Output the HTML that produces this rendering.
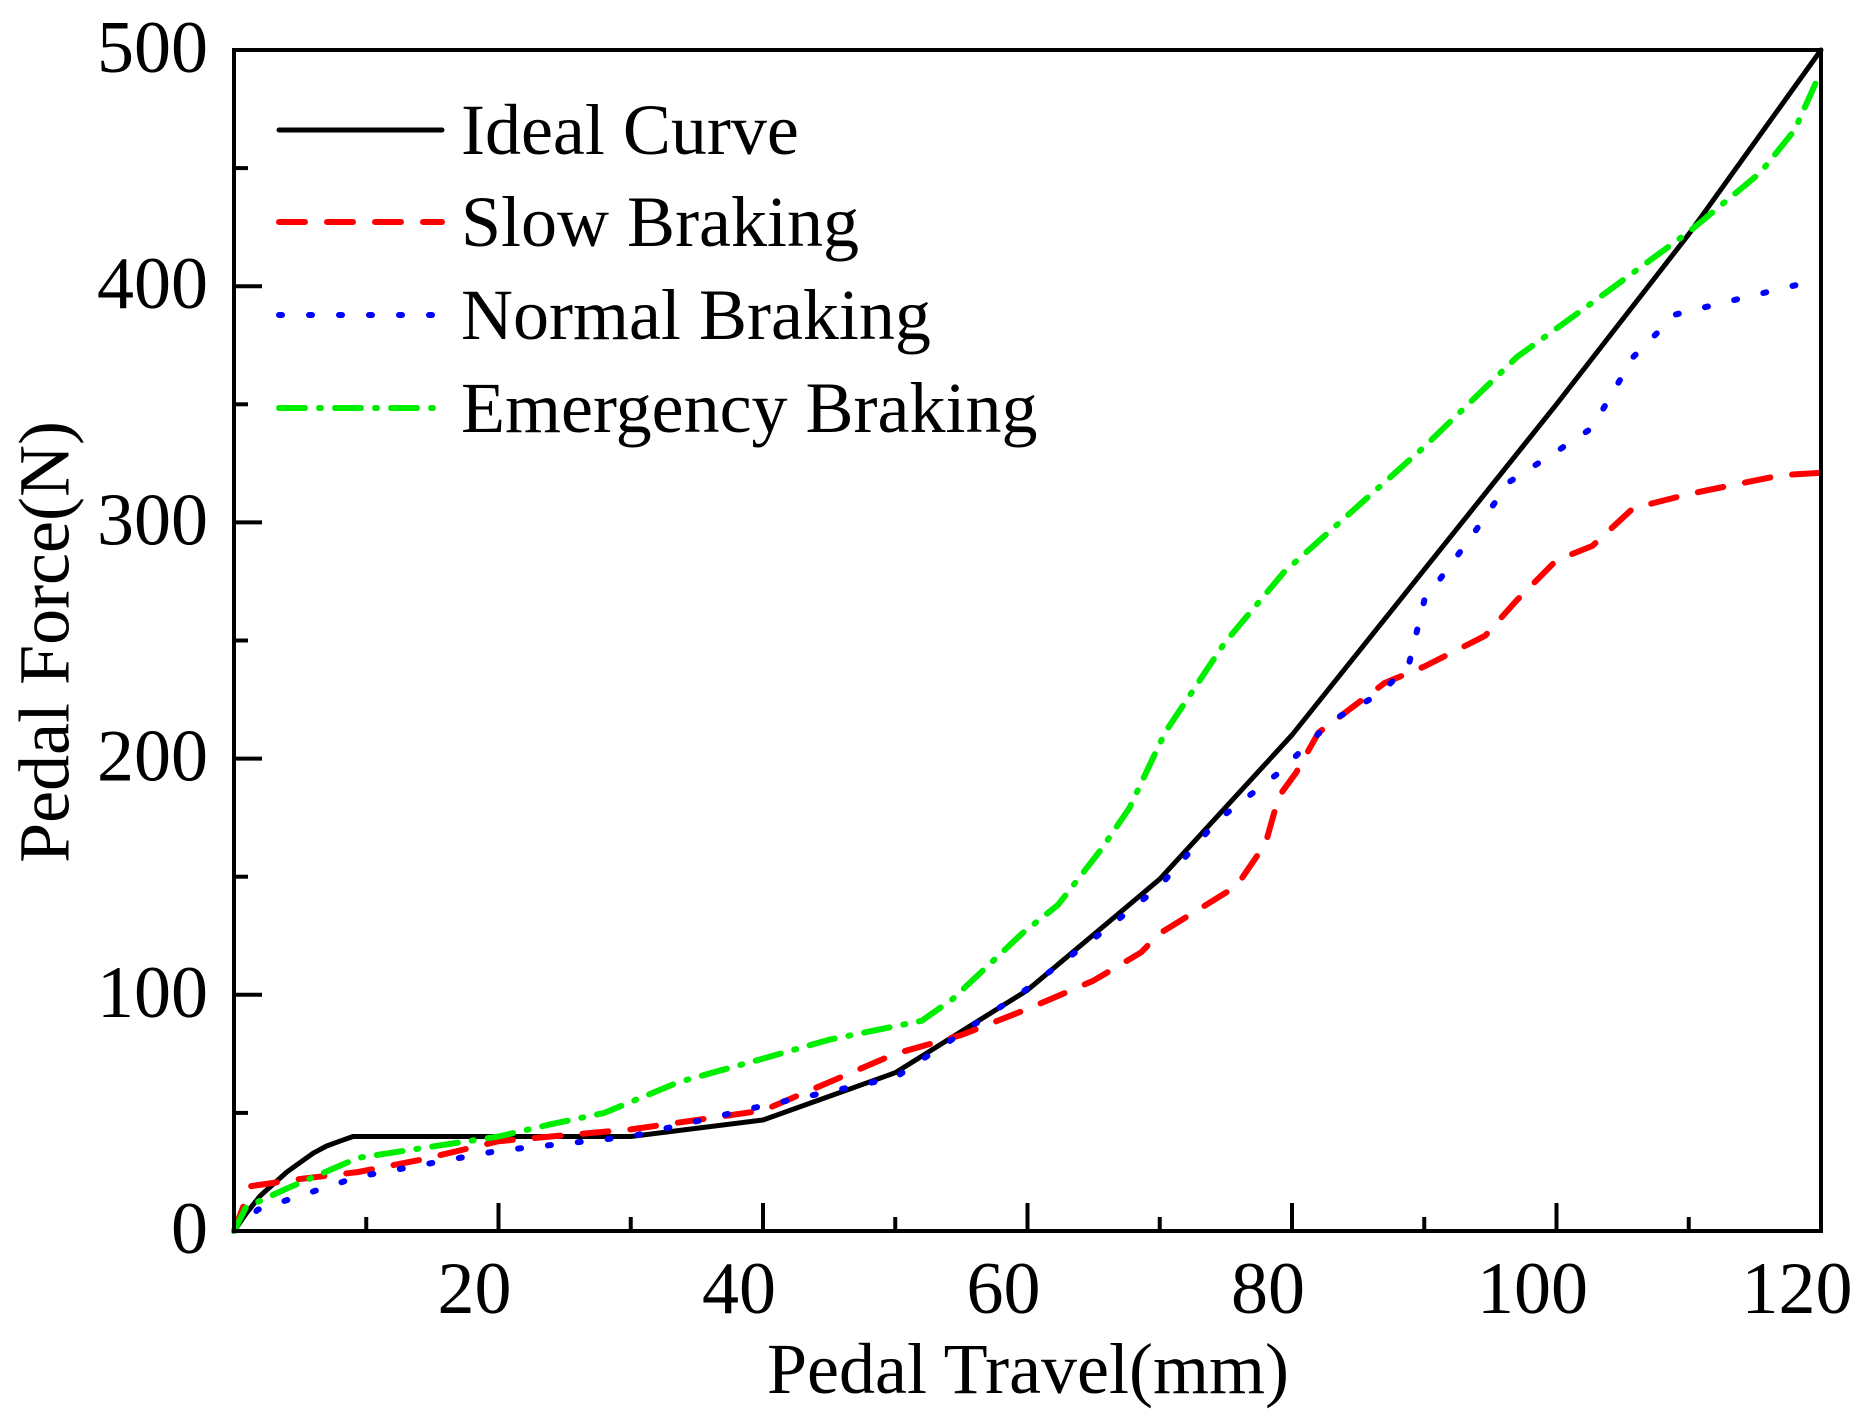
<!DOCTYPE html>
<html><head><meta charset="utf-8">
<style>
html,body{margin:0;padding:0;background:#fff;}
svg{display:block;font-family:"Liberation Serif",serif;}
</style></head>
<body>
<svg id="chart" width="1863" height="1417" viewBox="0 0 1863 1417" xmlns="http://www.w3.org/2000/svg">
<g id="plot"></g>
<g id="axes"></g>
<text x="1028" y="1393" font-size="72" text-anchor="middle">Pedal Travel(mm)</text>
<text transform="translate(52,642) rotate(-90)" font-size="72" text-anchor="middle" dominant-baseline="middle">Pedal Force(N)</text>
<g id="legend"></g>
</svg>
<script>
const xTicks=[20,40,60,80,100,120];
const yTicks=[0,100,200,300,400,500];
const seriesNames=["Ideal Curve","Slow Braking","Normal Braking","Emergency Braking"];
const idealX=[0,1,2,3,4,5,6,7,8,9,30,40,50,60,70,80,90,100,110,120];
const idealY=[0,8,15,20,25,29,33,36,38,40,40,47,67,102,149,210,280,350,422,500];
const slowX=[0,1.3,5,9.4,14,20,30,40,45,50,55,60,65,68.6,70,75.8,78,79,80.3,82,87,90,94.6,97,100,102.7,105.8,110,112.6,117,120];
const slowY=[0,19,22,25,30,38,43,51,63,75,83,94,106,118,126,146,164,184,194,211,232,239,252,267,284,290,306,312,315,320,321];
const normalX=[0,1.8,9.4,20,30,40,50,59.6,66,70,74.4,79,83,86.5,88.8,90,93.7,96.4,100,102.7,105.8,109,112.6,120];
const normalY=[0,9,23,34,40,53,65,101,128,146,174,194,216,227,239,267,295,317,330,340,370,388,393,403];
const emergX=[0,0.9,4,9.4,20,23.8,28,33.6,40,45,52,54.3,59.6,62.3,65.5,67.7,70.4,74.9,79.4,85.6,90,97,102.7,110,115.4,118,120];
const emergY=[0,10,18,31,40,45,50,63,73,81,89,98,126,138,161,179,211,249,279,310,332,370,393,423,448,466,491];

const X0=234,X1=1821,Y0=1231,Y1=50;
const sx=v=>X0+(v/120)*(X1-X0);
const sy=v=>Y0-(v/500)*(Y0-Y1);
const NS="http://www.w3.org/2000/svg";
function mk(tag,attrs,parent){const e=document.createElementNS(NS,tag);for(const k in attrs)e.setAttribute(k,attrs[k]);parent.appendChild(e);return e;}
const plot=document.getElementById('plot'),axes=document.getElementById('axes'),legend=document.getElementById('legend');

const styles=[
 {c:"#000",d:"",w:5,cap:"round"},
 {c:"#ff0000",d:"26 22",w:6,cap:"round"},
 {c:"#0000ff",d:"3 27",w:6,cap:"round"},
 {c:"#00ee00",d:"26 14 2 14",w:6,cap:"round"}
];
const xs=[idealX,slowX,normalX,emergX],ys=[idealY,slowY,normalY,emergY];
const snames=['ideal-curve-line','slow-braking-line','normal-braking-line','emergency-braking-line'];
for(let s=0;s<4;s++){
  const pts=xs[s].map((x,i)=>sx(x).toFixed(1)+","+sy(ys[s][i]).toFixed(1)).join(" ");
  const p=mk('polyline',{points:pts,fill:"none",stroke:styles[s].c,"stroke-width":styles[s].w,"stroke-dasharray":styles[s].d,"stroke-linecap":styles[s].cap,"stroke-linejoin":"round"},plot);
  
  
}
const fr=mk('rect',{x:X0,y:Y1,width:X1-X0,height:Y0-Y1,fill:"none",stroke:"#000","stroke-width":4},axes);


for(let v=10;v<120;v+=10){
  const len=(v%20===0)?28:14;
  const t=mk('line',{x1:sx(v),x2:sx(v),y1:Y0,y2:Y0-len,stroke:"#000","stroke-width":4},axes);
  
  
}
xTicks.forEach(v=>{
  const t=mk('text',{x:sx(v)-24,y:1313,"font-size":74,"text-anchor":"middle"},axes);
  t.textContent=v;
  
  
});
for(let v=50;v<500;v+=50){
  const len=(v%100===0)?28:14;
  const t=mk('line',{x1:X0,x2:X0+len,y1:sy(v),y2:sy(v),stroke:"#000","stroke-width":4},axes);
  
  
}
yTicks.forEach(v=>{
  const t=mk('text',{x:208,y:sy(v)+22,"font-size":74,"text-anchor":"end"},axes);
  t.textContent=v;
  
  
});
const ly=[130,222,315,408];
const lnames=['legend-ideal-curve','legend-slow-braking','legend-normal-braking','legend-emergency-braking'];
for(let s=0;s<4;s++){
  const g=mk('g',{},legend);
  
  
  mk('line',{x1:279,x2:442,y1:ly[s],y2:ly[s],stroke:styles[s].c,"stroke-width":styles[s].w,"stroke-dasharray":styles[s].d,"stroke-linecap":styles[s].cap},g);
  const t=mk('text',{x:461,y:ly[s]+24,"font-size":72},g);
  t.textContent=seriesNames[s];
}
</script>
</body></html>
